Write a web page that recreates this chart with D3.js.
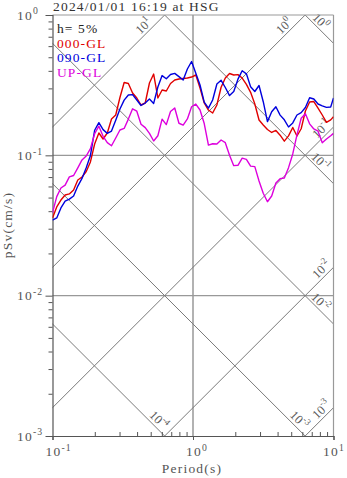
<!DOCTYPE html>
<html>
<head>
<meta charset="utf-8">
<script src="https://cdn.jsdelivr.net/npm/d3@7/dist/d3.min.js"></script>
<style>
  body { margin: 0; background: #fff; }
  svg text { font-family: "Liberation Serif", "Times New Roman", serif; }
</style>
</head>
<body>
<svg id="chart" width="347" height="478"></svg>
<script>
// Response spectrum (pSv, h = 5%) for the three components
const title = "2024/01/01 16:19 at HSG";
const dampingText = "h= 5%";
const seriesNames = ["000-GL", "090-GL", "UP-GL"];
const seriesColors = ["#e00000", "#0000dd", "#dd00dd"];

const periods = [0.1, 0.1072, 0.1148, 0.1230, 0.1318, 0.1413, 0.1514, 0.1622, 0.1738, 0.1862,
  0.1995, 0.2138, 0.2291, 0.2455, 0.2630, 0.2818, 0.3020, 0.3236, 0.3467, 0.3715,
  0.3981, 0.4266, 0.4571, 0.4898, 0.5248, 0.5623, 0.6026, 0.6457, 0.6918, 0.7413,
  0.7943, 0.8511, 0.9120, 0.9772, 1.047, 1.122, 1.202, 1.288, 1.380, 1.479,
  1.585, 1.698, 1.820, 1.950, 2.089, 2.239, 2.399, 2.570, 2.754, 2.951,
  3.162, 3.388, 3.631, 3.890, 4.169, 4.467, 4.786, 5.129, 5.495, 5.888,
  6.310, 6.761, 7.244, 7.762, 8.318, 8.913, 9.550, 10.0];

// pSv (cm/s), component 000-GL
const psv000 = [0.0358, 0.0429, 0.0480, 0.0522, 0.0531, 0.0566, 0.0667, 0.0701, 0.0767, 0.0897,
  0.1205, 0.1442, 0.1307, 0.1442, 0.1815, 0.1938, 0.2583, 0.3303, 0.3251, 0.2781,
  0.2562, 0.2284, 0.2360, 0.3276, 0.3797, 0.2562, 0.2921, 0.2873, 0.3251, 0.3441,
  0.3498, 0.3527, 0.3556, 0.3615, 0.3736, 0.3019, 0.2360, 0.2103, 0.2002, 0.2284,
  0.3057, 0.3556, 0.3829, 0.3736, 0.3760, 0.3556, 0.3203, 0.2813, 0.2322, 0.1785,
  0.1645, 0.1527, 0.1455, 0.1505, 0.1392, 0.1262, 0.1376, 0.1580, 0.1373, 0.1547,
  0.2069, 0.2397, 0.2418, 0.2172, 0.1938, 0.1718, 0.1790, 0.1886];

// pSv (cm/s), component 090-GL
const psv090 = [0.0346, 0.0358, 0.0422, 0.0472, 0.0488, 0.0513, 0.0604, 0.0685, 0.0815, 0.0998,
  0.1509, 0.1708, 0.1525, 0.1434, 0.1490, 0.1780, 0.2141, 0.2474, 0.2691, 0.2708,
  0.2479, 0.2265, 0.2360, 0.2520, 0.2344, 0.3069, 0.3700, 0.3514, 0.3767, 0.3840,
  0.3640, 0.3441, 0.4122, 0.4663, 0.3840, 0.3171, 0.2397, 0.2172, 0.2479, 0.3223,
  0.3424, 0.3043, 0.2665, 0.2850, 0.3489, 0.4009, 0.3808, 0.3084, 0.2850, 0.3145,
  0.2410, 0.1739, 0.2045, 0.2220, 0.1935, 0.1791, 0.1592, 0.1702, 0.1938, 0.2016,
  0.2194, 0.2573, 0.2520, 0.2322, 0.2254, 0.2198, 0.2209, 0.2562];

// pSv (cm/s), component UP-GL
const psvUP = [0.0389, 0.0508, 0.0585, 0.0614, 0.0703, 0.0718, 0.0815, 0.0927, 0.0989, 0.1117,
  0.1426, 0.1614, 0.1366, 0.1231, 0.1170, 0.1329, 0.1515, 0.1555, 0.1812, 0.2145,
  0.2062, 0.1666, 0.1575, 0.1434, 0.1265, 0.1378, 0.1812, 0.1656, 0.2052, 0.2175,
  0.1693, 0.1642, 0.1817, 0.2220, 0.2320, 0.2103, 0.1685, 0.1183, 0.1210, 0.1204,
  0.1286, 0.1231, 0.1003, 0.0844, 0.0849, 0.0955, 0.0936, 0.0838, 0.0831, 0.0657,
  0.0537, 0.0467, 0.0513, 0.0636, 0.0682, 0.0690, 0.0817, 0.1023, 0.1400, 0.1837,
  0.1980, 0.1677, 0.1541, 0.1487, 0.1228, 0.1307, 0.1378, 0.1434];

// Tripartite guide levels
const dispLevels = [1, 0.1, 0.01, 0.001, 0.0001];   // displacement, cm
const accLevels = [10, 1, 0.1, 0.01, 0.001];         // acceleration, cm/s^2
const expOf = v => Math.round(Math.log10(v));

const xTicks = [0.1, 1, 10];
const yTicks = [0.001, 0.01, 0.1, 1];

const m = { left: 52.5, right: 333.5, top: 15, bottom: 436 };
const svg = d3.select("#chart");

const x = d3.scaleLog().domain([0.1, 10]).range([m.left, m.right]);
const y = d3.scaleLog().domain([0.001, 1]).range([m.bottom, m.top]);
const TWO_PI = 2 * Math.PI;

svg.append("defs").append("clipPath").attr("id", "plotClip")
  .append("rect").attr("x", m.left).attr("y", m.top)
  .attr("width", m.right - m.left).attr("height", m.bottom - m.top);

// grid lines at decades
const grid = svg.append("g");
grid.selectAll("line.gx").data([1]).join("line")
  .attr("x1", d => x(d)).attr("x2", d => x(d))
  .attr("y1", m.top).attr("y2", m.bottom)
  .attr("stroke", "#aaa").attr("stroke-width", 1.8);
grid.selectAll("line.gy").data([0.1, 0.01]).join("line")
  .attr("x1", m.left).attr("x2", m.right)
  .attr("y1", d => y(d)).attr("y2", d => y(d))
  .attr("stroke", "#999").attr("stroke-width", 1.4);

// diagonal guide lines
const guides = svg.append("g").attr("clip-path", "url(#plotClip)");
const tEnds = [0.01, 100];
const accLine = a => tEnds.map(t => [x(t), y(a * t / TWO_PI)]);
const dispLine = dd => tEnds.map(t => [x(t), y(TWO_PI * dd / t)]);
const lineGen = d3.line();
guides.selectAll("path.acc").data(accLevels).join("path")
  .attr("d", a => lineGen(accLine(a)))
  .attr("fill", "none").attr("stroke", "#7a7a7a").attr("stroke-width", 1);
guides.selectAll("path.disp").data(dispLevels).join("path")
  .attr("d", dd => lineGen(dispLine(dd)))
  .attr("fill", "none").attr("stroke", "#7a7a7a").attr("stroke-width", 1);

// guide labels placed a little before each line leaves the plot
function powerLabel(g, e, size) {
  g.append("tspan").text("10");
  g.append("tspan").attr("dy", -size * 0.38).attr("font-size", size * 0.72).text(String(e));
}
const gFont = 12.5;
const glab = svg.append("g").attr("fill", "#5a5a5a");
accLevels.forEach(a => {
  let tExit = TWO_PI / a;           // top edge
  let back = 21, off = -10;
  if (tExit > 10) { tExit = 10; back = 12; off = -10; }
  const px = x(tExit) - back;
  const py = y(a * x.invert(px) / TWO_PI) + off;
  const t = glab.append("text").attr("font-size", gFont).attr("text-anchor", "middle")
    .attr("dominant-baseline", "central")
    .attr("transform", `translate(${px},${py}) rotate(-45)`);
  powerLabel(t, expOf(a), gFont);
});
dispLevels.forEach(dd => {
  let tExit = TWO_PI * dd / 0.001;  // bottom edge
  let back = 6, off = -10;
  if (tExit > 10) { tExit = 10; back = 13; off = -9; }
  const px = x(tExit) - back;
  const py = y(TWO_PI * dd / x.invert(px)) + off;
  const t = glab.append("text").attr("font-size", gFont).attr("text-anchor", "middle")
    .attr("dominant-baseline", "central")
    .attr("transform", `translate(${px},${py}) rotate(45)`);
  powerLabel(t, expOf(dd), gFont);
});

// frame
svg.append("line").attr("x1", m.left).attr("x2", m.right).attr("y1", m.top).attr("y2", m.top)
  .attr("stroke", "#999").attr("stroke-width", 1.2);
svg.append("line").attr("x1", m.right).attr("x2", m.right).attr("y1", m.top).attr("y2", m.bottom)
  .attr("stroke", "#999").attr("stroke-width", 1.2);

// axes
const yAxis = d3.axisLeft(y).tickValues(y.ticks()).tickSize(4).tickFormat("");
const gy = svg.append("g").attr("transform", `translate(${m.left},0)`).call(yAxis);
gy.selectAll(".tick line").attr("x2", d => yTicks.includes(d) ? -7 : -4);
const xAxis = d3.axisBottom(x).tickValues(x.ticks()).tickSize(4).tickFormat("");
const gx = svg.append("g").attr("transform", `translate(0,${m.bottom})`).call(xAxis);
gx.selectAll(".tick line").attr("y2", d => xTicks.includes(d) ? 4 : -4);
[gx, gy].forEach(g => {
  g.select(".domain").attr("stroke", "#555").attr("stroke-width", 1.2);
  g.selectAll(".tick line").attr("stroke", "#555");
});

// tick labels
const tickFont = 13.5;
svg.append("g").selectAll("text").data(yTicks).join("text")
  .attr("x", 17).attr("y", d => y(d) + 4.5).attr("fill", "#555")
  .attr("font-size", tickFont).attr("letter-spacing", 1.2)
  .each(function (d) { powerLabel(d3.select(this), expOf(d), tickFont); });
svg.append("g").selectAll("text").data(xTicks).join("text")
  .attr("x", d => x(d) - (d === 10 ? 10.5 : 7)).attr("y", 456).attr("fill", "#555")
  .attr("font-size", tickFont).attr("letter-spacing", 1.2)
  .each(function (d) { powerLabel(d3.select(this), expOf(d), tickFont); });

// axis titles
svg.append("text").attr("x", (m.left + m.right) / 2 - 1).attr("y", 472.5)
  .attr("text-anchor", "middle").attr("fill", "#555").attr("font-size", 13.5)
  .attr("letter-spacing", 1.2).text("Period(s)");
svg.append("text").attr("transform", "translate(12,225) rotate(-90)")
  .attr("text-anchor", "middle").attr("fill", "#555").attr("font-size", 13.5)
  .attr("letter-spacing", 1.2).text("pSv(cm/s)");

// title and legend
svg.append("text").attr("x", 53).attr("y", 10.5).attr("fill", "#333")
  .attr("font-size", 13.5).attr("letter-spacing", 1.2).text(title);
svg.append("text").attr("x", 57).attr("y", 33).attr("fill", "#222")
  .attr("font-size", 13.5).attr("letter-spacing", 1.1).text(dampingText);
svg.append("g").selectAll("text").data(seriesNames).join("text")
  .attr("x", 57).attr("y", (d, i) => 47.5 + i * 14.7)
  .attr("fill", (d, i) => seriesColors[i])
  .attr("font-size", 13.5).attr("letter-spacing", 1.1).text(d => d);

// spectra
const curves = [psv000, psv090, psvUP];
const specLine = d3.line().x((d, i) => x(periods[i])).y(d => y(d));
svg.append("g").attr("clip-path", "url(#plotClip)")
  .selectAll("path").data(curves).join("path")
  .attr("d", d => specLine(d))
  .attr("fill", "none").attr("stroke", (d, i) => seriesColors[i])
  .attr("stroke-width", 1.4).attr("stroke-linejoin", "round");
</script>
</body>
</html>
